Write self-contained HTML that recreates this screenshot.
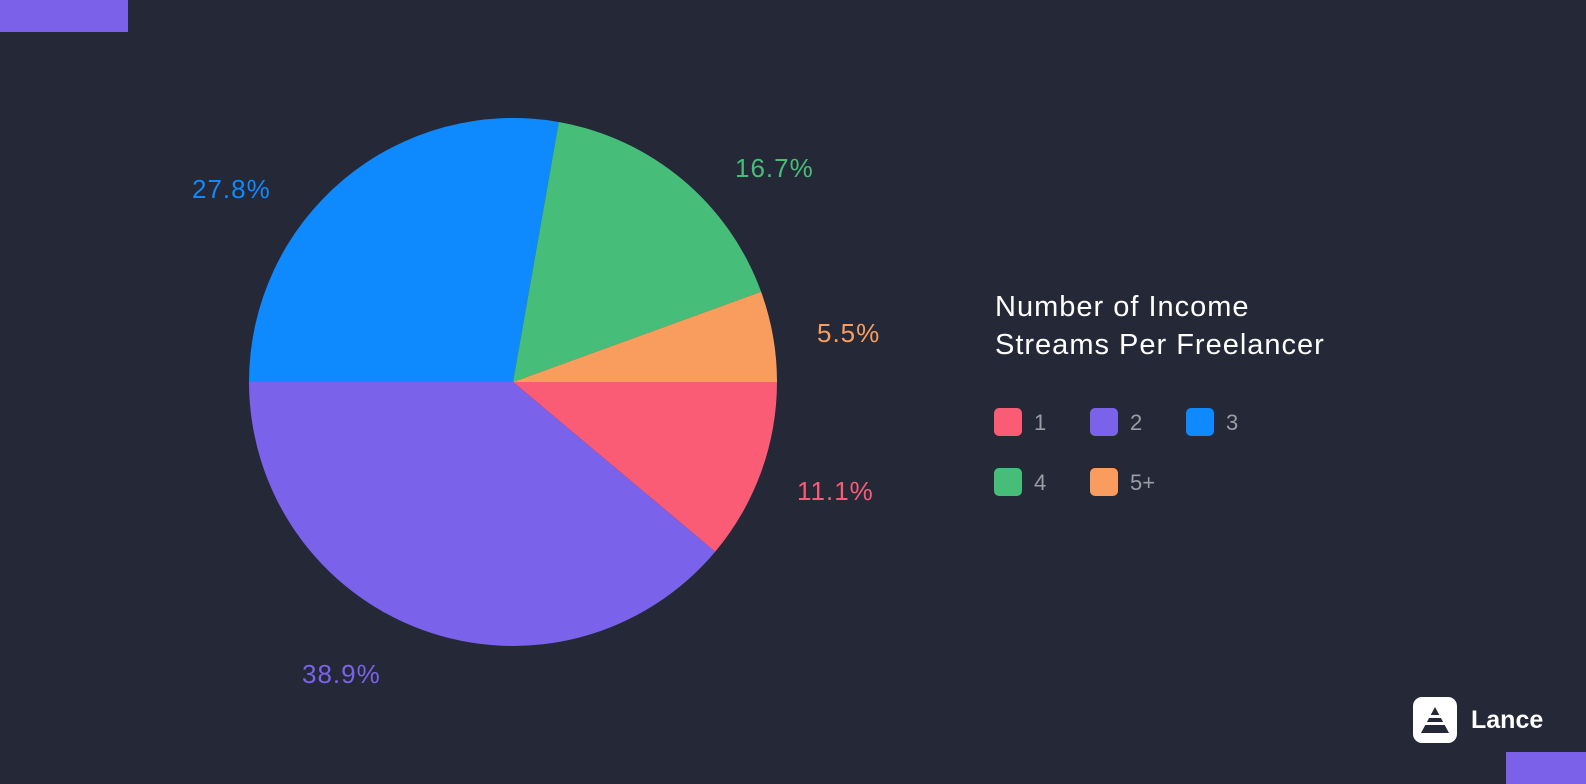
<!DOCTYPE html>
<html><head><style>
html,body{margin:0;padding:0;background:#252836;}
body{width:1586px;height:784px;position:relative;overflow:hidden;font-family:"Liberation Sans",sans-serif;}
</style></head><body>
<svg width="1586" height="784" viewBox="0 0 1586 784" xmlns="http://www.w3.org/2000/svg" style="position:absolute;left:0;top:0">
<rect width="1586" height="784" fill="#252836"/>
<rect x="0" y="0" width="128" height="32" fill="#7b61ea"/>
<rect x="1506" y="752" width="80" height="32" fill="#7b61ea"/>
<g transform="translate(513,382)">
<path d="M0,0 L264,0 A264,264 0 0 1 202.2,169.7 Z" fill="#fa5b75"/>
<path d="M0,0 L202.2,169.7 A264,264 0 0 1 -264,0 Z" fill="#7b62ea"/>
<path d="M0,0 L-264,0 A264,264 0 0 1 45.8,-260 Z" fill="#0e8afe"/>
<path d="M0,0 L45.8,-260 A264,264 0 0 1 248.1,-90.3 Z" fill="#46be7a"/>
<path d="M0,0 L248.1,-90.3 A264,264 0 0 1 264,0 Z" fill="#f99d5e"/>
</g>
<g font-size="26" font-family="Liberation Sans, sans-serif" letter-spacing="1">
<text x="192" y="198" fill="#0e8afe">27.8%</text>
<text x="735" y="177" fill="#46be7a">16.7%</text>
<text x="817" y="342" fill="#f99d5e">5.5%</text>
<text x="797" y="500" fill="#fa5b75">11.1%</text>
<text x="302" y="683" fill="#7b62ea">38.9%</text>
</g>
<g font-size="29" fill="#ffffff" letter-spacing="1">
<text x="995" y="316">Number of Income</text>
<text x="995" y="354">Streams Per Freelancer</text>
</g>
<g font-size="22" fill="#9a9ca6">
<rect x="994" y="408" width="28" height="28" rx="5" fill="#fa5b75"/>
<text x="1034" y="430">1</text>
<rect x="1090" y="408" width="28" height="28" rx="5" fill="#7b62ea"/>
<text x="1130" y="430">2</text>
<rect x="1186" y="408" width="28" height="28" rx="5" fill="#0e8afe"/>
<text x="1226" y="430">3</text>
<rect x="994" y="468" width="28" height="28" rx="5" fill="#46be7a"/>
<text x="1034" y="490">4</text>
<rect x="1090" y="468" width="28" height="28" rx="5" fill="#f99d5e"/>
<text x="1130" y="490">5+</text>
</g>
<rect x="1413" y="697" width="44" height="46" rx="9" fill="#ffffff"/>
<polygon points="1435,707 1449,733 1421,733" fill="#252836"/>
<rect x="1419" y="715" width="32" height="3" fill="#ffffff"/>
<rect x="1419" y="722" width="32" height="3" fill="#ffffff"/>
<text x="1471" y="728" font-size="25" font-weight="bold" fill="#ffffff">Lance</text>
</svg>
</body></html>
